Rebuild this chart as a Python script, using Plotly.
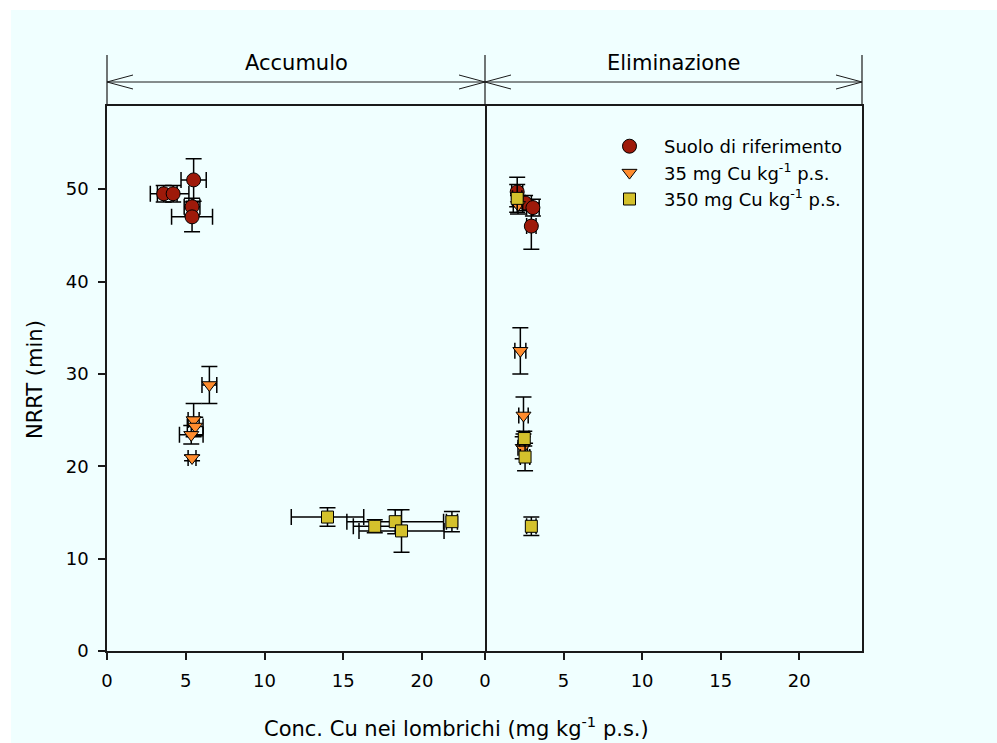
import plotly.graph_objects as go

# ---- data: Cu concentration in earthworms (x) vs NRRT (y) ----
# Accumulo phase
ref_acc_x = [3.6, 4.2, 5.5, 5.4, 5.4]
ref_acc_y = [49.5, 49.5, 51.0, 48.1, 47.0]
ref_acc_xerr = [0.85, 1.0, 0.8, 0.5, 1.3]
ref_acc_yerr = [0.9, 0.9, 2.3, 0.9, 1.6]

low_acc_x = [6.5, 5.5, 5.6, 5.35, 5.4]
low_acc_y = [28.8, 25.0, 24.3, 23.4, 20.9]
low_acc_xerr = [0.47, 0.35, 0.5, 0.75, 0.25]
low_acc_yerr = [2.0, 1.8, 1.0, 1.0, 0.3]

high_acc_x = [14.0, 17.0, 18.3, 18.7, 21.9]
high_acc_y = [14.5, 13.5, 14.0, 13.0, 14.0]
high_acc_xerr = [2.3, 1.36, 3.07, 2.7, 0.35]
high_acc_yerr = [1.0, 0.7, 1.3, 2.3, 1.1]

# Eliminazione phase
ref_elim_x = [2.05, 2.55, 3.05, 2.95]
ref_elim_y = [49.7, 48.5, 48.0, 46.0]
ref_elim_xerr = [0.35, 0.4, 0.4, 0.3]
ref_elim_yerr = [1.6, 0.8, 0.9, 2.5]

low_elim_x = [2.1, 2.25, 2.45, 2.4]
low_elim_y = [48.3, 32.5, 25.5, 22.0]
low_elim_xerr = [0.3, 0.35, 0.3, 0.3]
low_elim_yerr = [1.0, 2.5, 2.0, 1.2]

high_elim_x = [2.05, 2.5, 2.55, 2.95]
high_elim_y = [49.0, 23.0, 21.0, 13.5]
high_elim_xerr = [0.3, 0.3, 0.3, 0.3]
high_elim_yerr = [1.5, 0.8, 1.5, 1.0]

series_names = ["Suolo di riferimento",
                "35 mg Cu kg<sup>-1</sup> p.s.",
                "350 mg Cu kg<sup>-1</sup> p.s."]
x_ticks = [0, 5, 10, 15, 20]
y_ticks = [0, 10, 20, 30, 40, 50]
panel_titles = ["Accumulo", "Eliminazione"]
x_title = "Conc. Cu nei lombrichi (mg kg<sup>-1</sup> p.s.)"
y_title = "NRRT (min)"

# ---- styling ----
FONT = "DejaVu Sans"
BG = "#F0FFFF"
LINE = "#1a1a1a"
styles = [
    dict(symbol="circle", size=14, color="#9E1A0A"),
    dict(symbol="triangle-down", size=13, color="#FF8C2E"),
    dict(symbol="square", size=12, color="#D4C12C"),
]

W, H = 997, 743
L, R, T, B = 107, 135, 106, 92
PW, PH = W - L - R, H - T - B
split = (485 - L) / PW


def px_x(p):
    return (p - L) / PW


def px_y(p):
    return (H - B - p) / PH


fig = go.Figure()

panels = [
    ("x", "y", [(ref_acc_x, ref_acc_y, ref_acc_xerr, ref_acc_yerr),
                (low_acc_x, low_acc_y, low_acc_xerr, low_acc_yerr),
                (high_acc_x, high_acc_y, high_acc_xerr, high_acc_yerr)]),
    ("x2", "y2", [(ref_elim_x, ref_elim_y, ref_elim_xerr, ref_elim_yerr),
                  (low_elim_x, low_elim_y, low_elim_xerr, low_elim_yerr),
                  (high_elim_x, high_elim_y, high_elim_xerr, high_elim_yerr)]),
]

for pi, (xa, ya, groups) in enumerate(panels):
    for si, (xs, ys, xe, ye) in enumerate(groups):
        st = styles[si]
        fig.add_trace(go.Scatter(
            x=xs, y=ys, xaxis=xa, yaxis=ya, mode="markers",
            name=series_names[si], legendgroup=str(si), showlegend=(pi == 0),
            marker=dict(symbol=st["symbol"], size=st["size"], color=st["color"],
                        line=dict(color="black", width=1)),
            error_x=dict(type="data", array=xe, color="black", thickness=1.5, width=8),
            error_y=dict(type="data", array=ye, color="black", thickness=1.5, width=8),
        ))

axis_common = dict(
    range=[0, 24], tickvals=x_ticks, ticks="outside", ticklen=7, tickwidth=1.5,
    tickcolor=LINE, showline=True, linecolor=LINE, linewidth=1.5, mirror=True,
    showgrid=False, zeroline=False, tickfont=dict(family=FONT, size=18, color="black"),
    ticklabelstandoff=6,
)
fig.update_layout(
    xaxis=dict(domain=[0, split], anchor="y", **axis_common),
    xaxis2=dict(domain=[split, 1], anchor="y2", **axis_common),
    yaxis=dict(range=[0, 59], tickvals=y_ticks, ticks="outside", ticklen=7, tickwidth=1.5,
               tickcolor=LINE, showline=True, linecolor=LINE, linewidth=1.5, mirror=True,
               showgrid=False, zeroline=False, ticklabelstandoff=6,
               tickfont=dict(family=FONT, size=18, color="black")),
    # the shared divider comes from the left panel's mirror line, so the
    # right panel only draws its outer (right-hand) edge
    yaxis2=dict(range=[0, 59], anchor="x2", matches="y", side="right",
                showticklabels=False, ticks="",
                showline=True, linecolor=LINE, linewidth=1.5, mirror=False,
                showgrid=False, zeroline=False),
)

shapes = []
# light background panel behind the whole figure body
shapes.append(dict(type="rect", xref="paper", yref="paper",
                   x0=px_x(11), x1=px_x(W + 5), y0=px_y(H + 5), y1=px_y(10),
                   fillcolor=BG, line=dict(width=0), layer="below"))

# phase brackets above the panels
bracket_y = 82
bracket_top = 55
head_len, head_half = 26, 7
edges = [L, 485, W - R]
for ex in edges:
    shapes.append(dict(type="line", xref="paper", yref="paper",
                       x0=px_x(ex), x1=px_x(ex), y0=px_y(bracket_top), y1=px_y(T),
                       line=dict(color=LINE, width=1.2)))
shapes.append(dict(type="line", xref="paper", yref="paper",
                   x0=px_x(edges[0]), x1=px_x(edges[-1]),
                   y0=px_y(bracket_y), y1=px_y(bracket_y),
                   line=dict(color=LINE, width=1)))


def head(tip_x, direction):
    bx = tip_x - direction * head_len
    return (f"M {px_x(bx)},{px_y(bracket_y - head_half)} "
            f"L {px_x(tip_x)},{px_y(bracket_y)} "
            f"L {px_x(bx)},{px_y(bracket_y + head_half)}")


for tip, d in [(edges[0], -1), (edges[1], 1), (edges[1], -1), (edges[2], 1)]:
    shapes.append(dict(type="path", xref="paper", yref="paper", path=head(tip, d),
                       line=dict(color=LINE, width=1)))

annotations = []
for ti, (a, b) in enumerate([(edges[0], edges[1]), (edges[1], edges[2])]):
    annotations.append(dict(text=panel_titles[ti], xref="paper", yref="paper",
                            x=px_x((a + b) / 2), y=px_y(63), xanchor="center",
                            yanchor="middle", showarrow=False,
                            font=dict(family=FONT, size=21, color="black")))
annotations.append(dict(text=x_title, xref="paper", yref="paper",
                        x=px_x(456), y=px_y(727), xanchor="center", yanchor="middle",
                        showarrow=False, font=dict(family=FONT, size=21, color="black")))
annotations.append(dict(text=y_title, xref="paper", yref="paper", textangle=-90,
                        x=px_x(35), y=px_y(380), xanchor="center", yanchor="middle",
                        showarrow=False, font=dict(family=FONT, size=21, color="black")))

fig.update_layout(
    width=W, height=H,
    margin=dict(l=L, r=R, t=T, b=B),
    paper_bgcolor="white", plot_bgcolor=BG,
    shapes=shapes, annotations=annotations,
    showlegend=True,
    legend=dict(x=px_x(595), y=px_y(128), xanchor="left", yanchor="top",
                bgcolor="rgba(0,0,0,0)", font=dict(family=FONT, size=18, color="black"),
                itemwidth=59, tracegroupgap=0),
)

fig.write_html("out.html")
